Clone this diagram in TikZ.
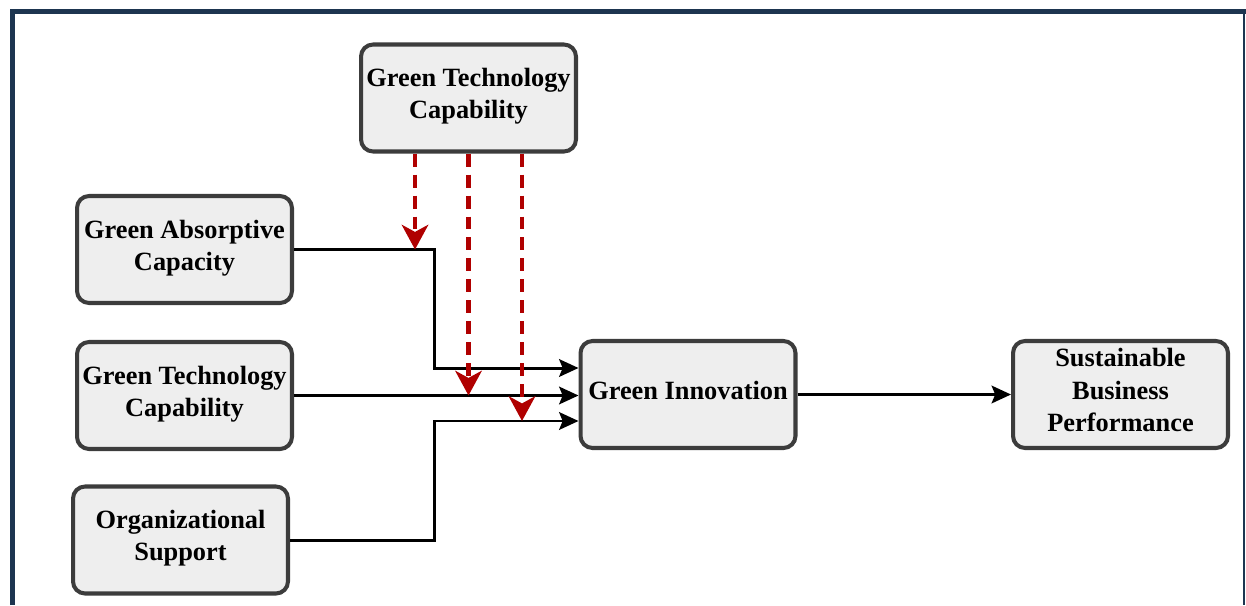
\documentclass[tikz,border=0pt]{standalone}
\usepackage{fontspec}
\setmainfont{Liberation Serif}
\usetikzlibrary{arrows.meta}

\definecolor{framenavy}{HTML}{1D3550}
\definecolor{boxgray}{HTML}{EEEEEE}
\definecolor{boxedge}{HTML}{3C3C3C}
\definecolor{modred}{HTML}{B00000}

\begin{document}
\begin{tikzpicture}[x=0.02cm,y=-0.02cm,
    box/.style={draw=boxedge,line width=2.3pt,fill=boxgray,rounded corners=0.24cm,
      minimum width=4.3cm,minimum height=2.14cm,align=center,inner sep=2pt,
      font=\fontsize{15}{18.4}\selectfont\bfseries,
      execute at end node={\rule[-5pt]{0pt}{5pt}}},
    link/.style={line width=1.7pt,-{Stealth[length=11pt,width=10pt,inset=2pt]}},
    modlink/.style={modred,line width=2.8pt,dash pattern=on 0.26cm off 0.16cm,
      -{Stealth[length=14pt,width=15pt,inset=4pt]}}]

    \useasboundingbox (0,0) rectangle (1246,605);

    % Frame
    \draw[framenavy,line width=2.8pt] (12.5,605) -- (12.5,11.5) -- (1246,11.5);
    \draw[framenavy,line width=1.1pt] (1244,11.5) -- (1244,605);

    % Constructs
    \node[box] (gtcmod) at (468.5,98) {Green Technology\\Capability};
    \node[box] (gac) at (184.5,249.5) {Green Absorptive\\Capacity};
    \node[box] (gtc) at (184.5,395.5) {Green Technology\\Capability};
    \node[box] (os) at (180.5,540) {Organizational\\Support};
    \node[box] (gi) at (688,394.5) {Green Innovation};
    \node[box] (sbp) at (1120.5,394.5) {Sustainable\\Business\\Performance};

    % Entry points on Green Innovation
    \coordinate (bend) at (434,0);
    \coordinate (in1) at ([yshift=0.53cm]gi.west);
    \coordinate (in3) at ([yshift=-0.53cm]gi.west);

    % Direct paths
    \draw[link] (gac.east) -- (gac.east -| bend) |- (in1);
    \draw[link] (gtc.east) -- (gtc.east -| gi.west);
    \draw[link] (os.east) -- (os.east -| bend) |- (in3);
    \draw[link] (gi.east) -- (sbp.west);

    % Moderating paths
    \draw[modlink] ([xshift=-1.07cm]gtcmod.south) coordinate (m1) -- (m1 |- gac.east);
    \draw[modlink] (gtcmod.south) -- (gtcmod.south |- gtc.east);
    \draw[modlink] ([xshift=1.07cm]gtcmod.south) coordinate (m3) -- (m3 |- in3);

\end{tikzpicture}
\end{document}
